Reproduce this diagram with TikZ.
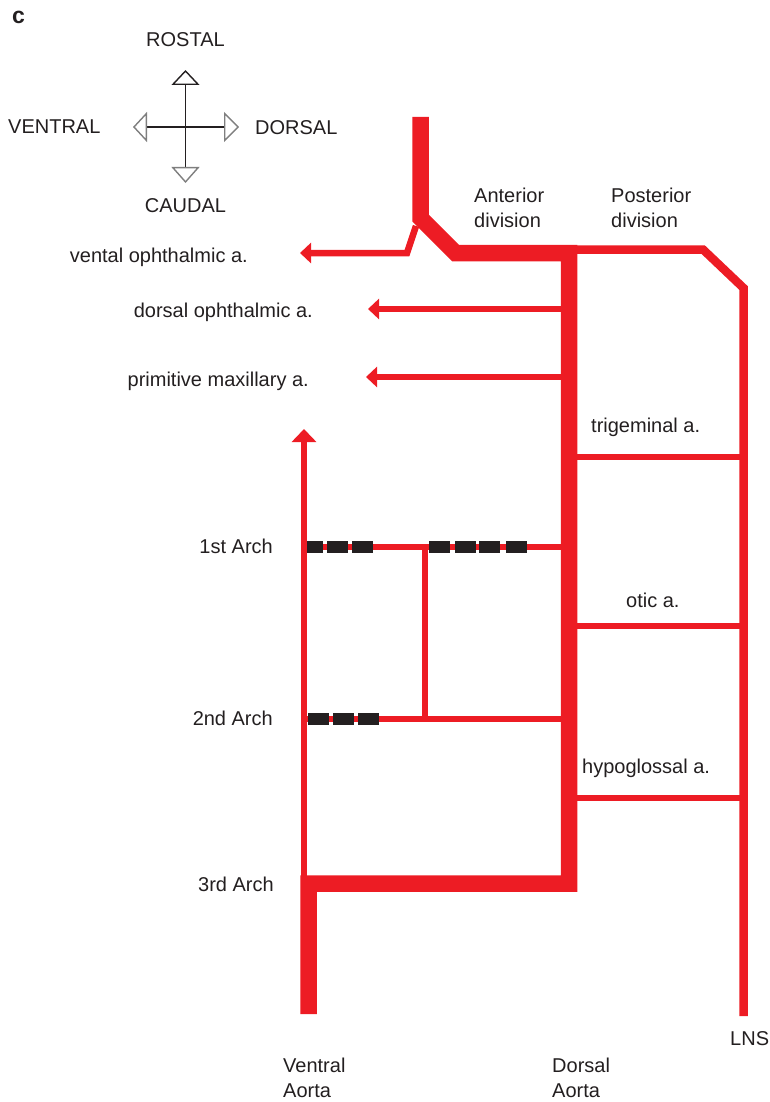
\documentclass[tikz,border=0pt]{standalone}
\usepackage{fontspec}
\setmainfont{Liberation Sans}
\usetikzlibrary{arrows.meta, positioning}
\definecolor{artred}{HTML}{ED1C24}
\definecolor{ink}{HTML}{231F20}
\definecolor{pale}{HTML}{7F7F7F}

\tikzset{
  label text/.style={font=\fontsize{20}{25}\selectfont, text=ink, inner sep=0pt},
  big artery/.style={draw=artred, line width=16.5pt},
  artery/.style={draw=artred, line width=6.5pt},
  side artery/.style={draw=artred, line width=8.5pt},
  branch tip/.style={-{Triangle[length=11pt, width=20pt]}},
  rise tip/.style={-{Triangle[length=13pt, width=24pt]}},
  blocked/.style={fill=ink},
  compass/.style={draw=ink, line width=1.4pt},
}

\begin{document}
\begin{tikzpicture}[x=1pt, y=-1pt]
\useasboundingbox (0,0) rectangle (770,1102);

% orientation cross
\coordinate (hub) at (185.5,127);
\coordinate (rostal) at (185.5,70);
\coordinate (caudal) at (185.5,183);
\coordinate (ventral) at (133,127);
\coordinate (dorsal) at (239,127);
\draw[compass, -{Triangle[open, length=15pt, width=28pt]}] (hub) -- (rostal);
\draw[compass, -{Triangle[open, length=16pt, width=28pt, color=pale]}] (hub) -- (caudal);
\draw[compass, -{Triangle[open, length=14pt, width=30pt, color=pale]}] (hub) -- (ventral);
\draw[compass, -{Triangle[open, length=15pt, width=30pt, color=pale]}] (hub) -- (dorsal);

\node[label text, font=\fontsize{23}{25}\selectfont\bfseries, anchor=base west] (panel) at (12,24) {c};
\node[label text, anchor=base] (rostaltext) at (185.5,47) {ROSTAL};
\node[label text, anchor=base] (caudaltext) at (185.5,212) {CAUDAL};
\node[label text, anchor=base west] (ventraltext) at (8,134) {VENTRAL};
\node[label text, anchor=base west] (dorsaltext) at (255,135) {DORSAL};

% vessel junctions
\coordinate (top) at (420.5,117);
\coordinate (bend) at (420.5,218);
\coordinate (elbow) at (455.5,253);
\coordinate (split) at (569,253);
\coordinate (da3) at (569,883.5);
\coordinate (va3) at (308.5,883.5);
\coordinate (vabot) at (308.5,1014);
\coordinate (post1) at (703,249.5);
\coordinate (post2) at (743.5,288);
\coordinate (lnsbot) at (743.5,1016);
\coordinate (vopht1) at (416,226);
\coordinate (vopht2) at (407,253);
\coordinate (vopht3) at (300,253);
\coordinate (vatop) at (304,429);
\coordinate (vathin) at (304,880);
\coordinate (hinge) at (425,547);

% branches off the dorsal aorta
\draw[artery, branch tip] (vopht1) -- (vopht2) -- (vopht3);
\draw[artery, branch tip] (split |- 0,309) -- (368,309);
\draw[artery, branch tip] (split |- 0,377) -- (366,377);
\foreach \y in {457, 626, 798}
  \draw[artery] (split |- 0,\y) -- (post2 |- 0,\y);

% arches
\draw[artery, rise tip] (vathin) -- (vatop);
\draw[artery] (vatop |- hinge) -- (split |- hinge);
\draw[artery] (vatop |- 0,719) -- (split |- 0,719);
\draw[artery] (hinge) -- (hinge |- 0,719);
\foreach \a/\b in {307/323, 327/348, 352/373, 429/450, 455/476, 479/500, 506/527}
  \fill[blocked] (\a,541) rectangle (\b,553);
\foreach \a/\b in {308/329, 333/354, 358/379}
  \fill[blocked] (\a,713) rectangle (\b,725);

% posterior division and LNS
\draw[side artery] (split |- post1) -- (post1) -- (post2) -- (lnsbot);

% carotid trunk, dorsal aorta, 3rd arch, ventral aorta
\draw[big artery] (top) -- (bend) -- (elbow) -- (split) -- (da3) -- (va3) -- (vabot);

% labels
\node[label text, align=left, anchor=base west] (anterior) at (474,227) {Anterior\\division};
\node[label text, align=left, anchor=base west] (posterior) at (611,227) {Posterior\\division};
\node[label text, anchor=base east] (vopht) at (248,262) {vental ophthalmic a.};
\node[label text, anchor=base east] (dopht) at (313,317) {dorsal ophthalmic a.};
\node[label text, anchor=base east] (pmax) at (309,386) {primitive maxillary a.};
\node[label text, anchor=base west] (trig) at (591,432) {trigeminal a.};
\node[label text, anchor=base west] (otic) at (626,607) {otic a.};
\node[label text, anchor=base west] (hypo) at (582,773) {hypoglossal a.};
\node[label text, anchor=base east] (arch1) at (273,553) {1st Arch};
\node[label text, anchor=base east] (arch2) at (273,725) {2nd Arch};
\node[label text, anchor=base east] (arch3) at (274,891) {3rd Arch};
\node[label text, align=left, anchor=base west] (va) at (283,1097) {Ventral\\Aorta};
\node[label text, align=left, anchor=base west] (da) at (552,1097) {Dorsal\\Aorta};
\node[label text, anchor=base west] (lns) at (730,1045) {LNS};
\end{tikzpicture}
\end{document}
